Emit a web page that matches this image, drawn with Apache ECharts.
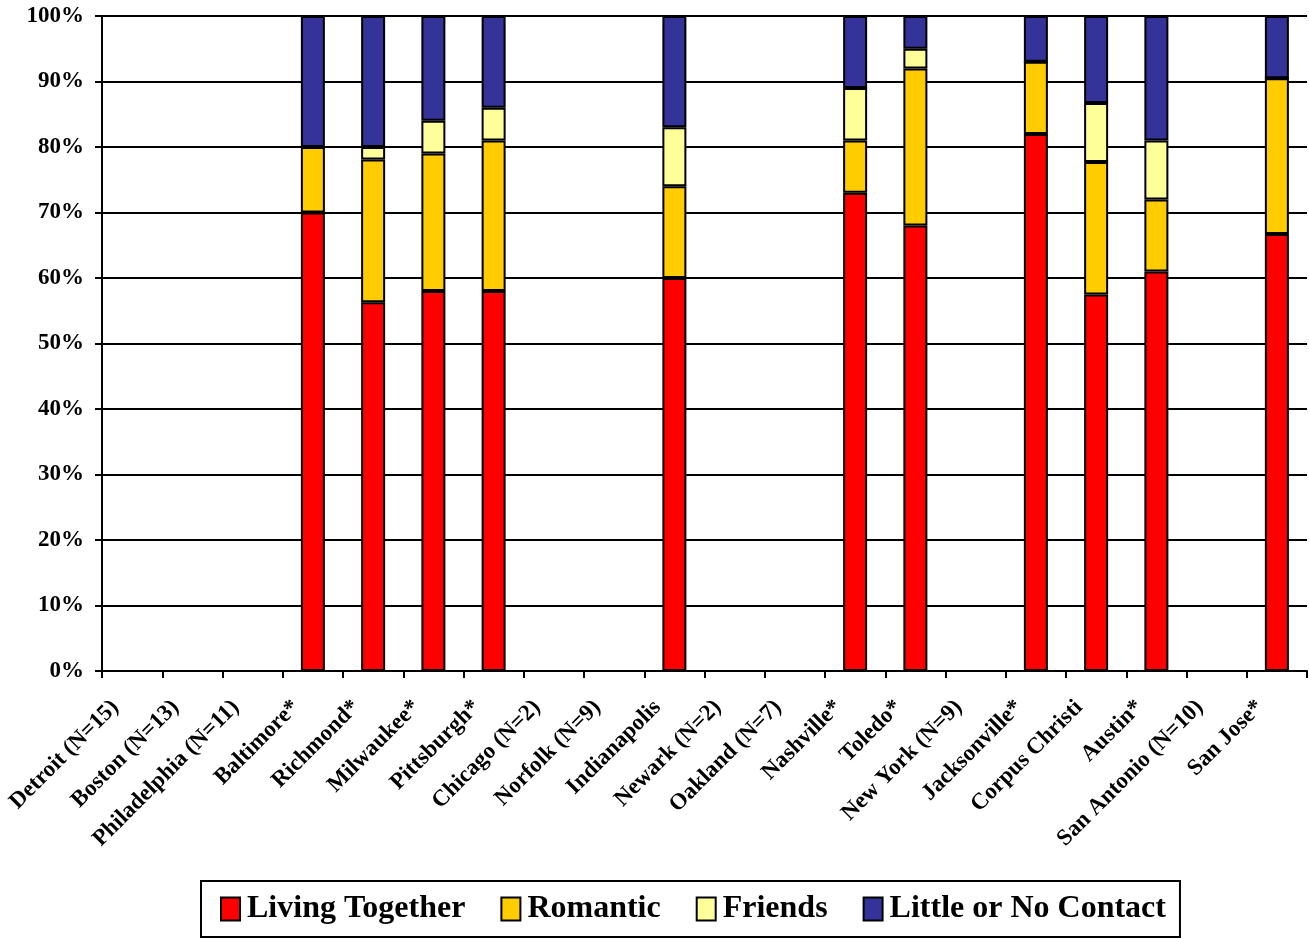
<!DOCTYPE html>
<html>
<head>
<meta charset="utf-8">
<script src="https://cdn.jsdelivr.net/npm/echarts@6/dist/echarts.min.js"></script>
<style>
  html, body { margin: 0; padding: 0; background: #fff; }
  #chart { width: 1309px; height: 938px; }
</style>
</head>
<body>
<div id="chart"></div>
<script>
var cities = ['Detroit (N=15)', 'Boston (N=13)', 'Philadelphia (N=11)', 'Baltimore*', 'Richmond*',
  'Milwaukee*', 'Pittsburgh*', 'Chicago (N=2)', 'Norfolk (N=9)', 'Indianapolis', 'Newark (N=2)',
  'Oakland (N=7)', 'Nashville*', 'Toledo*', 'New York (N=9)', 'Jacksonville*', 'Corpus Christi',
  'Austin*', 'San Antonio (N=10)', 'San Jose*'];

// percent of each city, stacked to 100
var livingTogether = [null, null, null, 70, 56.3, 58, 58, null, null, 60, null, null, 73, 68, null, 82, 57.5, 61, null, 66.7];
var romantic       = [null, null, null, 10, 21.8, 21, 23, null, null, 14, null, null, 8, 24, null, 11, 20.2, 11, null, 23.8];
var friends        = [null, null, null, 0, 1.9, 5, 5, null, null, 9, null, null, 8, 3, null, 0, 9, 9, null, 0];
var littleContact  = [null, null, null, 20, 20, 16, 14, null, null, 17, null, null, 11, 5, null, 7, 13.3, 19, null, 9.5];

var seriesNames = ['Living Together', 'Romantic', 'Friends', 'Little or No Contact'];
var seriesColors = ['#FF0000', '#FFCC00', '#FFFF99', '#333399'];
var seriesData = [livingTogether, romantic, friends, littleContact];

var font = 'Liberation Serif, Times New Roman, serif';

var chart = echarts.init(document.getElementById('chart'));
var option = {
  animation: false,
  textStyle: { fontFamily: font },
  grid: { left: 102, right: 2, top: 16, bottom: 267 },
  legend: {
    data: seriesNames,
    icon: 'rect',
    left: 201,
    bottom: 1,
    padding: [12, 14, 12, 19],
    itemGap: 35,
    itemWidth: 19,
    itemHeight: 23,
    borderColor: '#000',
    borderWidth: 2,
    itemStyle: { borderColor: '#000', borderWidth: 2 },
    textStyle: { fontFamily: font, fontWeight: 'bold', fontSize: 32, color: '#000', padding: [2, 0, 0, 2] }
  },
  xAxis: {
    type: 'category',
    data: cities,
    axisLine: { lineStyle: { color: '#000', width: 2 } },
    axisTick: { show: true, length: 7, lineStyle: { color: '#000', width: 2 } },
    axisLabel: {
      interval: 0,
      rotate: 45,
      margin: 16,
      padding: [0, 24, 0, 0],
      color: '#000',
      fontFamily: font,
      fontWeight: 'bold',
      fontSize: 23
    }
  },
  yAxis: {
    type: 'value',
    min: 0,
    max: 100,
    interval: 10,
    axisLine: { show: true, lineStyle: { color: '#000', width: 2 } },
    axisTick: { show: true, length: 7, lineStyle: { color: '#000', width: 2 } },
    splitLine: { lineStyle: { color: '#000', width: 2 } },
    axisLabel: {
      formatter: '{value}%',
      color: '#000',
      fontFamily: font,
      fontWeight: 'bold',
      fontSize: 23,
      margin: 18
    }
  },
  series: seriesNames.map(function (name, i) {
    return {
      name: name,
      type: 'bar',
      stack: 'total',
      barWidth: 24,
      data: seriesData[i],
      itemStyle: { color: seriesColors[i], borderColor: '#000', borderWidth: 2 }
    };
  })
};
chart.setOption(option);
</script>
</body>
</html>
